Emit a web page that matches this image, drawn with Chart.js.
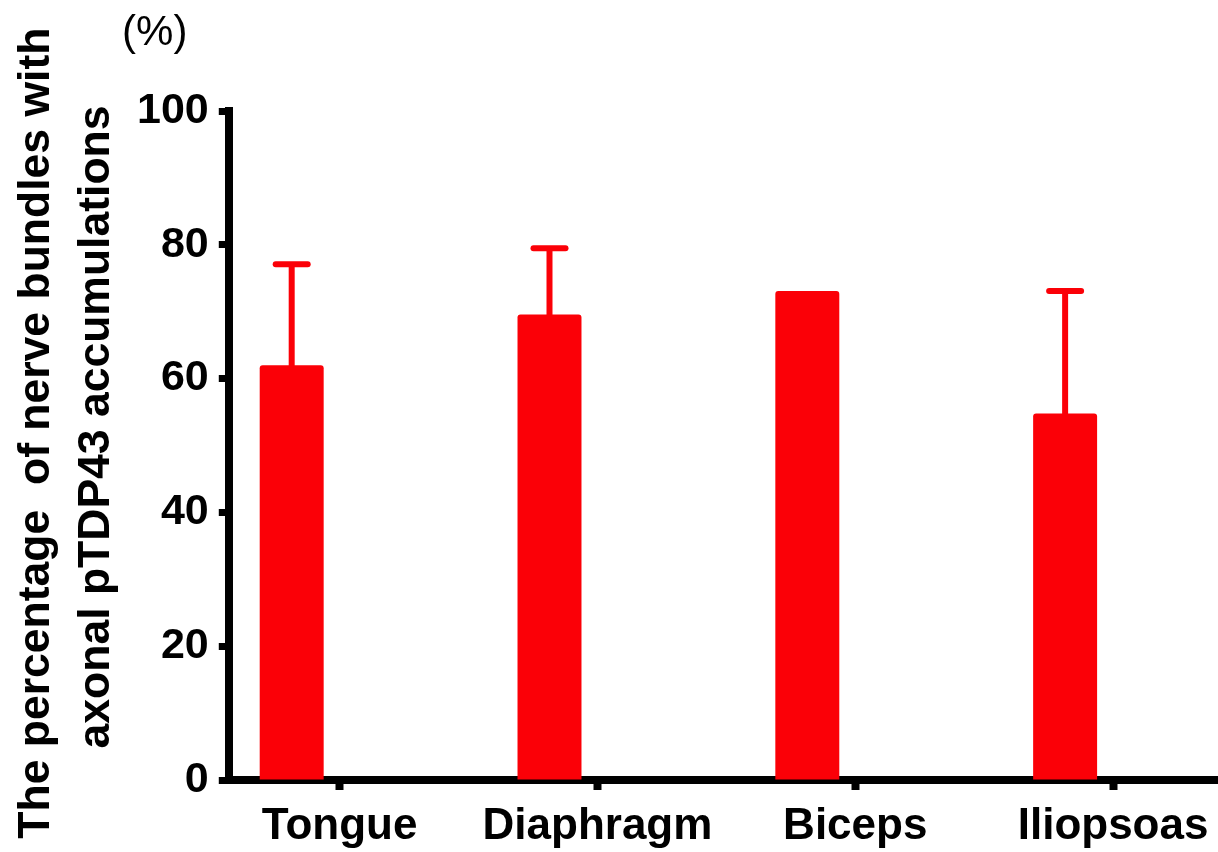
<!DOCTYPE html>
<html>
<head>
<meta charset="utf-8">
<script src="https://cdn.jsdelivr.net/npm/chart.js@4.4.1/dist/chart.umd.min.js"></script>
<style>
  html, body { margin: 0; padding: 0; background: #fff; }
  #wrap { width: 1218px; height: 852px; }
</style>
</head>
<body>
<div id="wrap"><canvas id="c" width="1218" height="852"></canvas></div>
<script>
// Muscle groups and the share of nerve bundles with axonal pTDP43 (mean, SD)
const categories = ['Tongue', 'Diaphragm', 'Biceps', 'Iliopsoas'];
const meanValues = [62.0, 69.6, 73.1, 54.8];
const sdValues = [15.1, 9.9, null, 18.3];
const yTicks = [0, 20, 40, 60, 80, 100];
const yTitleLines = ['  The percentage  of nerve bundles with', '   axonal pTDP43 accumulations'];
const unitLabel = '(%)';

const RED = '#fb0007';
const FONT = '"Liberation Sans", Arial, Helvetica, sans-serif';
Chart.defaults.font.family = FONT;

// Upward-only SD whiskers with a rounded cap, drawn on top of each bar
const errorBars = {
  id: 'errorBars',
  afterDatasetsDraw(chart) {
    const meta = chart.getDatasetMeta(0);
    const yScale = chart.scales.y;
    const ctx = chart.ctx;
    ctx.save();
    ctx.strokeStyle = RED;
    ctx.lineWidth = 6;
    meta.data.forEach((bar, i) => {
      const sd = sdValues[i];
      if (sd == null) return;
      const yTop = yScale.getPixelForValue(meanValues[i] + sd);
      ctx.beginPath();
      ctx.lineCap = 'butt';
      ctx.moveTo(bar.x, bar.y + 2);
      ctx.lineTo(bar.x, yTop);
      ctx.stroke();
      ctx.beginPath();
      ctx.lineCap = 'round';
      ctx.moveTo(bar.x - 16, yTop);
      ctx.lineTo(bar.x + 16, yTop);
      ctx.stroke();
    });
    ctx.restore();
  }
};

// Unit label above the value axis
const unitText = {
  id: 'unitText',
  afterDraw(chart) {
    const { ctx, chartArea } = chart;
    ctx.save();
    ctx.fillStyle = '#000';
    ctx.font = '42px ' + FONT;
    ctx.textAlign = 'center';
    ctx.textBaseline = 'middle';
    ctx.fillText(unitLabel, chartArea.left - 74, chartArea.top - 78);
    ctx.restore();
  }
};

new Chart(document.getElementById('c'), {
  type: 'bar',
  data: {
    datasets: [
      {
        label: 'Mean',
        data: meanValues.map((v, i) => ({ x: i, y: v })),
        backgroundColor: RED,
        borderWidth: 0,
        borderRadius: 3
      },
      {
        // empty partner slot: keeps each bar in the left half of its group
        label: '',
        data: categories.map((c, i) => ({ x: i, y: null })),
        backgroundColor: 'rgba(0,0,0,0)'
      }
    ]
  },
  options: {
    responsive: false,
    animation: false,
    devicePixelRatio: 1,
    categoryPercentage: 0.744,
    barPercentage: 0.667,
    layout: { padding: { top: 111, left: 6, right: 0, bottom: -12 } },
    plugins: {
      legend: { display: false },
      tooltip: { enabled: false }
    },
    scales: {
      x: {
        type: 'linear',
        min: -0.43,
        max: 3.407,
        offset: false,
        afterBuildTicks: s => { s.ticks = categories.map((c, i) => ({ value: i })); },
        ticks: {
          callback: v => categories[v],
          color: '#000',
          font: { size: 44, weight: 'bold', lineHeight: 1.318 },
          padding: 8,
          maxRotation: 0,
          autoSkip: false
        },
        grid: {
          display: true,
          drawOnChartArea: false,
          drawTicks: true,
          tickLength: 10,
          tickWidth: 8,
          tickColor: '#000',
          offset: false
        },
        border: { display: true, color: '#000', width: 8 }
      },
      y: {
        min: 0,
        max: 100,
        afterBuildTicks: s => { s.ticks = yTicks.map(v => ({ value: v })); },
        ticks: {
          color: '#000',
          font: { size: 43, weight: 'bold' },
          padding: 10
        },
        grid: {
          display: true,
          drawOnChartArea: false,
          drawTicks: true,
          tickLength: 10,
          tickWidth: 7,
          tickColor: '#000'
        },
        border: { display: true, color: '#000', width: 8 },
        title: {
          display: true,
          text: yTitleLines,
          color: '#000',
          font: { size: 44.5, weight: 'bold', lineHeight: 1.36 },
          padding: { top: 0, bottom: 0 }
        }
      }
    }
  },
  plugins: [errorBars, unitText]
});
</script>
</body>
</html>
